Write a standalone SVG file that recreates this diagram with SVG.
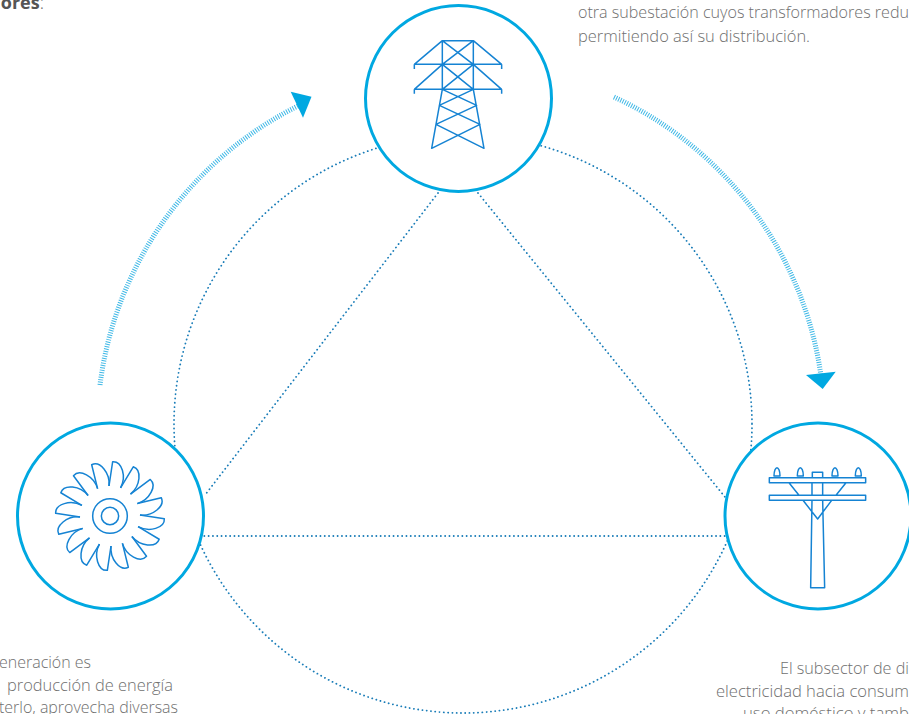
<svg xmlns="http://www.w3.org/2000/svg" xmlns:xlink="http://www.w3.org/1999/xlink" width="909" height="714" viewBox="0 0 909 714">
<style>
.node{fill:#fff;stroke:#00a8e1;stroke-width:3}
.ico{fill:none;stroke:#1583d3;stroke-width:4.5;stroke-linejoin:round}
.dot{fill:none;stroke:#1a7db8;stroke-width:1.8;stroke-linecap:round;stroke-dasharray:.1 4.2}
.flow{fill:none;stroke:#3fb8e6;stroke-width:5;stroke-dasharray:1 1.4}
.head{fill:#00a8e1}
.t{font-family:"Open Sans","Noto Sans",sans-serif;font-weight:300;font-size:16px;fill:#6f6f6f}
</style>
<defs>
<path id="blade" d="M-3-90L8-163C36-165 50-118 31.7-84.3"/>
</defs>
<rect width="909" height="714" fill="#fff"/>
<g id="connectors">
<circle class="dot" cx="463" cy="424" r="289"/>
<path class="dot" d="M438 193L205 495"/>
<path class="dot" d="M478 193L725 497"/>
<path class="dot" d="M200 536H728"/>
<path class="flow" d="M100 385A362 362 0 0 1 300 105"/>
<polygon class="head" points="290.7,91.7 311.5,96.7 303,117.7"/>
<path class="flow" d="M614 97A362 362 0 0 1 821 376"/>
<polygon class="head" points="806,375 835.7,371.7 822.7,389"/>
</g>
<g id="node-transmision">
<circle class="node" cx="458.5" cy="98.5" r="93"/>
<g transform="translate(380 20) scale(.3333)">
<path class="ico" d="M187 62H280V208H187ZM187 133H280M187 62L280 133M280 62L187 133M187 133L280 208M280 133L187 208M187 62L103 133M280 62L365 133M187 133L103 208M280 133L365 208M103 133H365M103 208H365M103 133V147M365 133V147M103 208V221M365 208V221M187 208L155 385L300 313L178 256L280 208L312 385L168 313L290 256L187 208"/>
</g>
</g>
<g id="node-generacion">
<circle class="node" cx="110.5" cy="516" r="93"/>
<g transform="translate(110 516) scale(.3333)">
<circle class="ico" r="52"/>
<circle class="ico" r="26"/>
<use class="ico" xlink:href="#blade"/>
<use class="ico" xlink:href="#blade" transform="rotate(22.5)"/>
<use class="ico" xlink:href="#blade" transform="rotate(45)"/>
<use class="ico" xlink:href="#blade" transform="rotate(67.5)"/>
<use class="ico" xlink:href="#blade" transform="rotate(90)"/>
<use class="ico" xlink:href="#blade" transform="rotate(112.5)"/>
<use class="ico" xlink:href="#blade" transform="rotate(135)"/>
<use class="ico" xlink:href="#blade" transform="rotate(157.5)"/>
<use class="ico" xlink:href="#blade" transform="rotate(180)"/>
<use class="ico" xlink:href="#blade" transform="rotate(202.5)"/>
<use class="ico" xlink:href="#blade" transform="rotate(225)"/>
<use class="ico" xlink:href="#blade" transform="rotate(247.5)"/>
<use class="ico" xlink:href="#blade" transform="rotate(270)"/>
<use class="ico" xlink:href="#blade" transform="rotate(292.5)"/>
<use class="ico" xlink:href="#blade" transform="rotate(315)"/>
<use class="ico" xlink:href="#blade" transform="rotate(337.5)"/>
</g>
</g>
<g id="node-distribucion">
<circle class="node" cx="818" cy="516" r="93"/>
<g transform="translate(750 450) scale(.3333)">
<path class="ico" d="M58 83H347V98H58ZM58 136H347V151H58ZM187 83V67H218V83M186 98V136M218 98V136M186 151L182 413H224L218 151M117 98L147 136M288 98L258 136M159 151L203 207L245 151"/>
<path class="ico" d="M72 78C72 62 77 53 81 53C85 53 90 62 90 78ZM142 78C142 62 147 53 151 53C155 53 160 62 160 78ZM246 78C246 62 251 53 255 53C259 53 264 62 264 78ZM316 78C316 62 321 53 325 53C329 53 334 62 334 78Z"/>
</g>
</g>
<g id="labels">
<text class="t" x="44" y="9" text-anchor="end" style="font-size:18px"><tspan font-weight="700" fill="#555">ores</tspan>:</text>
<text class="t" x="578" y="18" textLength="331" lengthAdjust="spacingAndGlyphs">otra subestación cuyos transformadores redu</text>
<text class="t" x="578" y="42" textLength="232" lengthAdjust="spacingAndGlyphs">permitiendo así su distribución.</text>
<text class="t" x="-1" y="668" textLength="92" lengthAdjust="spacingAndGlyphs">eneración es</text>
<text class="t" x="7" y="691" textLength="166" lengthAdjust="spacingAndGlyphs">producción de energía</text>
<text class="t" x="-1" y="713" textLength="179" lengthAdjust="spacingAndGlyphs">terlo, aprovecha diversas</text>
<text class="t" x="780" y="674" textLength="129" lengthAdjust="spacingAndGlyphs">El subsector de di</text>
<text class="t" x="716" y="697" textLength="193" lengthAdjust="spacingAndGlyphs">electricidad hacia consum</text>
<text class="t" x="743" y="719" textLength="166" lengthAdjust="spacingAndGlyphs">uso doméstico y tamb</text>
</g>
</svg>
